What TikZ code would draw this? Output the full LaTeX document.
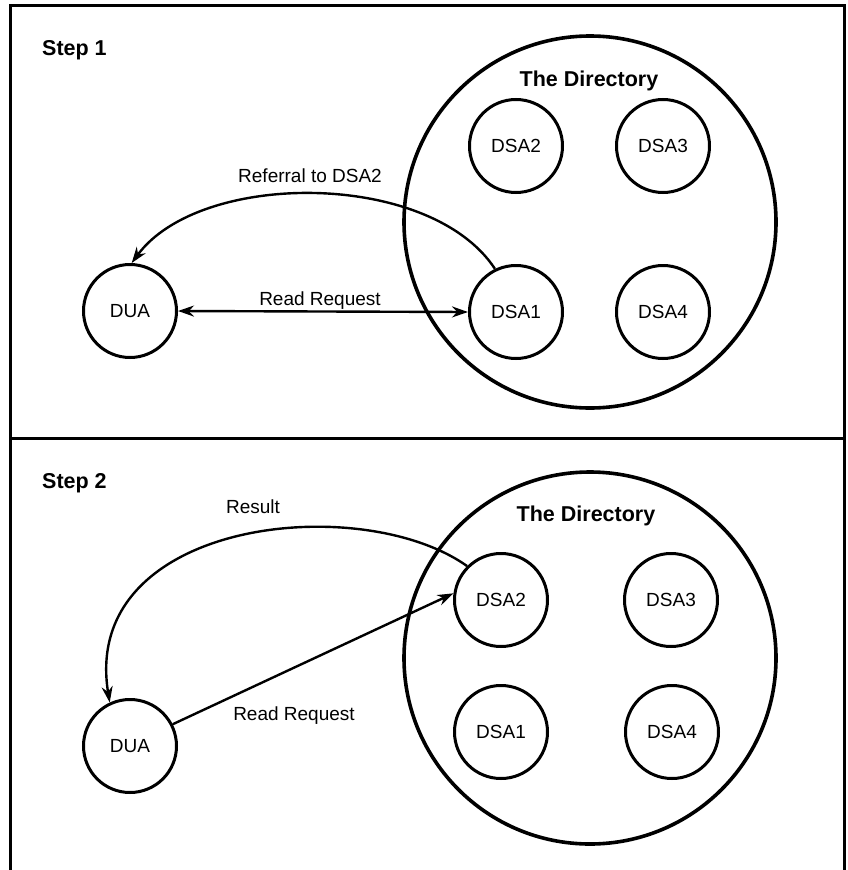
\documentclass[tikz,border=0pt]{standalone}
\usepackage{fontspec}
\setmainfont{Liberation Sans}
\usetikzlibrary{arrows.meta}
\begin{document}
\begin{tikzpicture}[x=1pt,y=1pt,
  agent/.style={draw, circle, line width=3pt, minimum size=93pt, inner sep=0pt,
                font=\fontsize{19}{22}\selectfont},
  realm/.style={draw, circle, line width=3.6pt, minimum size=372pt, inner sep=0pt},
  frameline/.style={line width=3pt},
  tip/.style={Stealth[length=16pt,width=11pt]},
  flow/.style={line width=2.4pt, -{Stealth[length=16pt,width=11pt]}},
  twoway/.style={line width=2.4pt, {Stealth[length=16pt,width=11pt]}-{Stealth[length=16pt,width=11pt]}},
  lbl/.style={anchor=base, inner sep=0pt, font=\fontsize{19}{22}\selectfont},
  heading/.style={anchor=base, inner sep=0pt, font=\bfseries\fontsize{21.5}{25}\selectfont},
]
\useasboundingbox (0,0) rectangle (847,-870);

% open frame with the divider between the two steps
\draw[frameline] (10,-870) -- (10,-5) -- (844,-5) -- (844,-870);
\draw[frameline] (10,-438) -- (844,-438);

% ---------------- Step 1 ----------------
\node[heading, anchor=base west] (h1) at (42,-55) {Step 1};
\node[realm] (dir1) at (590,-222) {};
\node[heading] (t1) at (589,-86) {The Directory};
\node[agent] (a2) at (516,-146) {DSA2};
\node[agent] (a3) at (663,-146) {DSA3};
\node[agent] (a1) at (516,-312) {DSA1};
\node[agent] (a4) at (663,-312) {DSA4};
\node[agent] (u1) at (130,-311) {DUA};

\draw[twoway] (u1.east) -- (a1.west);
\node[lbl] (rr1) at (320,-305) {Read Request};
\draw[flow] (a1.116) .. controls (430,-170) and (200,-170) .. (u1.88);
\node[lbl] (ref) at (310,-182) {Referral to DSA2};

% ---------------- Step 2 ----------------
\node[heading, anchor=base west] (h2) at (42,-488) {Step 2};
\node[realm] (dir2) at (590,-658) {};
\node[heading] (t2) at (586,-521) {The Directory};
\node[agent] (b2) at (501,-600) {DSA2};
\node[agent] (b3) at (671,-600) {DSA3};
\node[agent] (b1) at (501,-732) {DSA1};
\node[agent] (b4) at (672,-732) {DSA4};
\node[agent] (u2) at (130,-746) {DUA};

\draw[flow] (u2.27) -- (b2.172);
\node[lbl] (rr2) at (294,-720) {Read Request};
\draw[flow] (b2.135) .. controls (360,-490) and (80,-520) .. (u2.115);
\node[lbl] (res) at (253,-513) {Result};
\end{tikzpicture}
\end{document}
